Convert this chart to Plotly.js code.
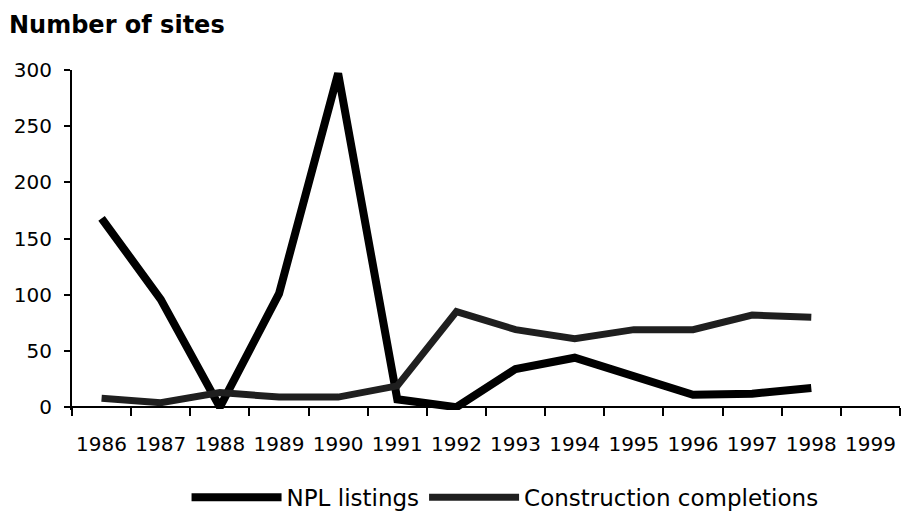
<!DOCTYPE html>
<html>
<head>
<meta charset="utf-8">
<script src="https://cdn.plot.ly/plotly-3.0.1.min.js"></script>
<style>html,body{margin:0;padding:0;background:#fff;}#chart{width:902px;height:513px;}</style>
</head>
<body>
<div id="chart"></div>
<script>
var years = ['1986','1987','1988','1989','1990','1991','1992','1993','1994','1995','1996','1997','1998','1999'];
var dataYears = ['1986','1987','1988','1989','1990','1991','1992','1993','1994','1995','1996','1997','1998'];
var nplListings = [168, 96, 0, 101, 297, 7, 0, 34, 44, 28, 11, 12, 17];
var constructionCompletions = [8, 4, 13, 9, 9, 19, 85, 69, 61, 69, 69, 82, 80];
var yTicks = [0, 50, 100, 150, 200, 250, 300];

var font = 'DejaVu Sans, Liberation Sans, Arial, sans-serif';
var yMin = -2.5, yMax = 300;

var traces = [
  {
    x: dataYears, y: nplListings, type: 'scatter', mode: 'lines',
    name: 'NPL listings',
    line: {color: '#000000', width: 8}
  },
  {
    x: dataYears, y: constructionCompletions, type: 'scatter', mode: 'lines',
    name: 'Construction completions',
    line: {color: '#1f1f1f', width: 7}
  }
];

var layout = {
  width: 902, height: 513,
  margin: {l: 72, r: 2, t: 70, b: 103, pad: 0, autoexpand: false},
  paper_bgcolor: '#ffffff', plot_bgcolor: '#ffffff',
  font: {family: font, color: '#000000', size: 20},
  title: {
    text: '<b>Number of sites</b>',
    font: {family: font, size: 24, color: '#000000'},
    xref: 'container', yref: 'container',
    x: 9/902, xanchor: 'left',
    y: 1 - 25/513, yanchor: 'middle'
  },
  showlegend: true,
  legend: {
    orientation: 'h',
    x: 0.523, xanchor: 'center',
    y: -0.2566, yanchor: 'middle',
    font: {family: font, size: 23, color: '#000000'},
    itemwidth: 90,
    tracegroupgap: 0,
    bgcolor: 'rgba(0,0,0,0)'
  },
  xaxis: {
    type: 'category',
    categoryorder: 'array',
    categoryarray: years,
    range: [-0.5, 13.5],
    tickson: 'boundaries',
    tickangle: 0,
    ticks: 'outside', ticklen: 8, tickwidth: 2, tickcolor: '#000',
    showline: true, linecolor: '#000', linewidth: 2,
    showgrid: false, zeroline: false,
    anchor: 'free',
    position: (0 - yMin) / (yMax - yMin),
    ticklabelstandoff: 19,
    tickfont: {family: font, size: 20, color: '#000'},
    automargin: false,
    fixedrange: true
  },
  yaxis: {
    range: [yMin, yMax],
    tickmode: 'array', tickvals: yTicks, ticktext: yTicks.map(String),
    ticks: 'outside', ticklen: 6, tickwidth: 2, tickcolor: '#000',
    showline: true, linecolor: '#000', linewidth: 2,
    showgrid: false, zeroline: false,
    ticklabelstandoff: 8,
    tickfont: {family: font, size: 20, color: '#000'},
    automargin: false,
    fixedrange: true
  }
};

Plotly.newPlot('chart', traces, layout, {displayModeBar: false, staticPlot: true});
</script>
</body>
</html>
